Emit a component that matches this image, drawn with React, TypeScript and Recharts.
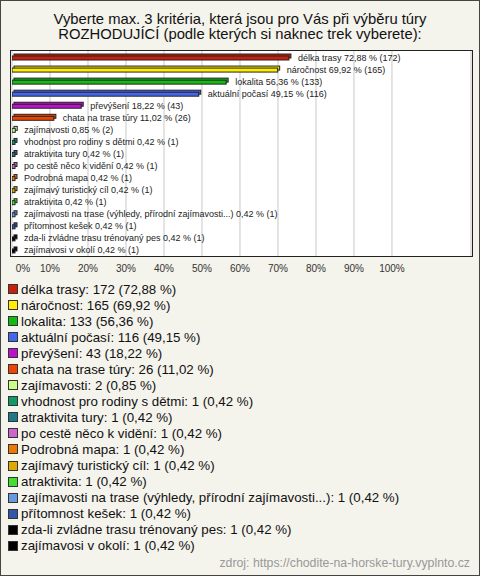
import React from 'react';
import { BarChart, Bar, XAxis, YAxis, CartesianGrid, LabelList } from 'recharts';

// Hodnoty
const CATEGORIES = [
  'délka trasy',
  'náročnost',
  'lokalita',
  'aktuální počasí',
  'převýšení',
  'chata na trase túry',
  'zajímavosti',
  'vhodnost pro rodiny s dětmi',
  'atraktivita tury',
  'po cestě něco k vidění',
  'Podrobná mapa',
  'zajímavý turistický cíl',
  'atraktivita',
  'zajímavosti na trase (výhledy, přírodní zajímavosti...)',
  'přítomnost kešek',
  'zda-li zvládne trasu trénovaný pes',
  'zajímavosi v okolí',
];
const COUNTS = [172, 165, 133, 116, 43, 26, 2, 1, 1, 1, 1, 1, 1, 1, 1, 1, 1];
const PERCENTS = [72.88, 69.92, 56.36, 49.15, 18.22, 11.02, 0.85, 0.42, 0.42, 0.42, 0.42, 0.42, 0.42, 0.42, 0.42, 0.42, 0.42];
const COLORS = [
  '#c8200c', '#ffee00', '#11bb11', '#4466ee', '#bb11cc', '#ee4400', '#ccff88', '#119966',
  '#227788', '#cc66cc', '#ee7700', '#ddaa00', '#44dd33', '#6699dd', '#3355aa', '#000000', '#000000',
];
const TICKS = [0, 10, 20, 30, 40, 50, 60, 70, 80, 90, 100];

const fmt = (v: number) => v.toFixed(2).replace('.', ',');

const data = CATEGORIES.map((name, i) => ({
  name,
  value: PERCENTS[i],
  count: COUNTS[i],
  color: COLORS[i],
}));

const FONT = '"Liberation Sans", Arial, sans-serif';

function Bar3D(props: any) {
  const { x, y, width, index } = props;
  const w = Math.max(width, 3);
  const fill = COLORS[index];
  return (
    <g>
      <rect x={x + 2} y={y - 1} width={w} height={4} fill={fill} stroke="#222" strokeWidth={1} />
      <rect x={x} y={y + 1} width={w} height={4} fill={fill} stroke="#222" strokeWidth={1} />
    </g>
  );
}

function BarLabel(props: any) {
  const { x, y, width, height, index } = props;
  const d = data[index];
  return (
    <text x={x + Math.max(width, 3) + 9} y={y + height / 2 + 3} fontSize={9} fontFamily={FONT} fill="#222">
      {`${d.name} ${fmt(d.value)} % (${d.count})`}
    </text>
  );
}

function Tick(props: any) {
  const { x, y, payload } = props;
  const dx = payload.value === 0 ? 11 : 0;
  return (
    <text x={x + dx} y={y + 8} textAnchor="middle" fontSize={10} fontFamily={FONT} fill="#333">
      {`${payload.value}%`}
    </text>
  );
}

export default function App() {
  return (
    <div
      style={{
        position: 'relative',
        width: 480,
        height: 576,
        boxSizing: 'border-box',
        border: '1px solid #444',
        background: '#f4f3ec',
        fontFamily: FONT,
        overflow: 'hidden',
      }}
    >
      <style>{`body{margin:0}`}</style>
      <div
        style={{
          position: 'absolute',
          top: 11,
          left: 0,
          width: 478,
          textAlign: 'center',
          fontSize: 14.8,
          lineHeight: '15px',
          color: '#111',
        }}
      >
        Vyberte max. 3 kritéria, která jsou pro Vás při výběru túry
        <br />
        ROZHODUJÍCÍ (podle kterých si naknec trek vyberete):
      </div>
      <div
        style={{
          position: 'absolute',
          left: 9,
          top: 49,
          width: 461,
          height: 205,
          background: '#fff',
          border: '1px solid #222',
        }}
      />
      <div style={{ position: 'absolute', left: 0, top: 0 }}>
        <BarChart
          width={478}
          height={280}
          data={data}
          layout="vertical"
          margin={{ top: 50, left: 11, right: 8, bottom: 0 }}
          barSize={5}
        >
          <CartesianGrid horizontal={false} stroke="#c8c8c8" />
          <XAxis
            type="number"
            domain={[0, 120.8]}
            ticks={TICKS}
            axisLine={false}
            tickLine={false}
            tick={<Tick />}
            height={25}
            allowDataOverflow
          />
          <YAxis type="category" dataKey="name" hide />
          <Bar dataKey="value" shape={<Bar3D />} isAnimationActive={false}>
            <LabelList dataKey="value" content={<BarLabel />} />
          </Bar>
        </BarChart>
      </div>
      <div style={{ position: 'absolute', left: 7, top: 280 }}>
        {data.map((d) => (
          <div
            key={d.name}
            style={{ display: 'flex', alignItems: 'center', height: 16.05, fontSize: 13.3, color: '#111' }}
          >
            <span
              style={{
                display: 'inline-block',
                width: 8,
                height: 8,
                background: d.color,
                border: '1px solid #333',
                marginRight: 3,
              }}
            />
            {`${d.name}: ${d.count} (${fmt(d.value)} %)`}
          </div>
        ))}
      </div>
      <div
        style={{
          position: 'absolute',
          right: 9,
          top: 555,
          fontSize: 12.3,
          color: '#999',
        }}
      >
        zdroj: https://chodite-na-horske-tury.vyplnto.cz
      </div>
    </div>
  );
}
